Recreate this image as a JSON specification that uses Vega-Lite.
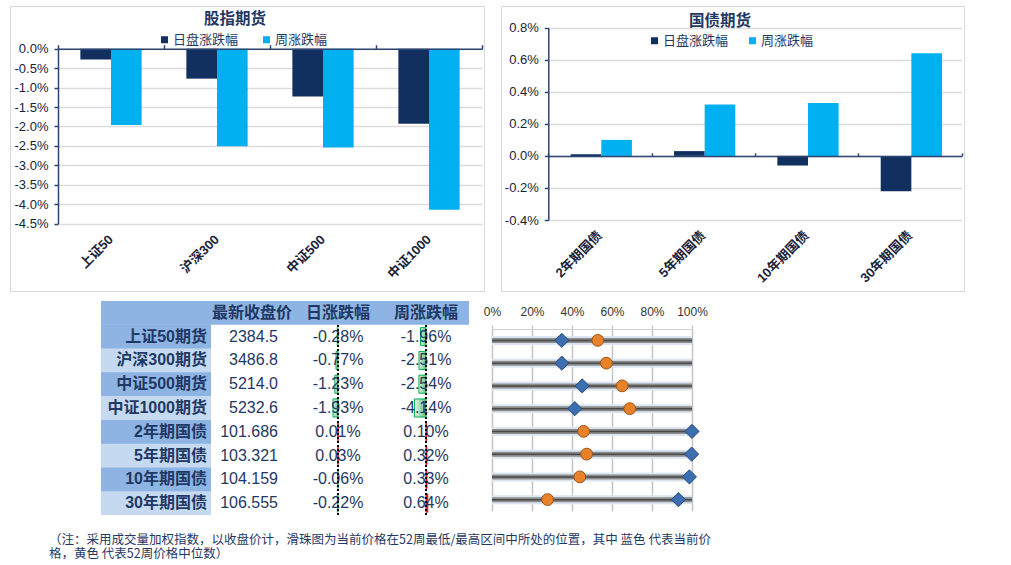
{
  "$schema": "https://vega.github.io/schema/vega-lite/v6.json",
  "padding": {"left": 9, "top": 5, "right": 0, "bottom": 0},
  "config": {
    "font": "Liberation Sans, Noto Sans CJK SC",
    "view": {"stroke": null},
    "locale": {"number": {"decimal": ".", "thousands": ",", "grouping": [3], "currency": ["", ""], "minus": "-"}},
    "axis": {"labelFont": "Liberation Sans, Noto Sans CJK SC"}
  },
  "datasets": {
    "eq": [
      {"cat": "上证50", "series": "日盘涨跌幅", "value": -0.0028},
      {"cat": "上证50", "series": "周涨跌幅", "value": -0.0196},
      {"cat": "沪深300", "series": "日盘涨跌幅", "value": -0.0077},
      {"cat": "沪深300", "series": "周涨跌幅", "value": -0.0251},
      {"cat": "中证500", "series": "日盘涨跌幅", "value": -0.0123},
      {"cat": "中证500", "series": "周涨跌幅", "value": -0.0254},
      {"cat": "中证1000", "series": "日盘涨跌幅", "value": -0.0193},
      {"cat": "中证1000", "series": "周涨跌幅", "value": -0.0414}
    ],
    "bond": [
      {"cat": "2年期国债", "series": "日盘涨跌幅", "value": 0.0001},
      {"cat": "2年期国债", "series": "周涨跌幅", "value": 0.0010},
      {"cat": "5年期国债", "series": "日盘涨跌幅", "value": 0.0003},
      {"cat": "5年期国债", "series": "周涨跌幅", "value": 0.0032},
      {"cat": "10年期国债", "series": "日盘涨跌幅", "value": -0.0006},
      {"cat": "10年期国债", "series": "周涨跌幅", "value": 0.0033},
      {"cat": "30年期国债", "series": "日盘涨跌幅", "value": -0.0022},
      {"cat": "30年期国债", "series": "周涨跌幅", "value": 0.0064}
    ],
    "tbl": [
      {"name": "上证50期货", "close": "2384.5", "day": -0.0028, "week": -0.0196, "cur": 0.349, "med": 0.529},
      {"name": "沪深300期货", "close": "3486.8", "day": -0.0077, "week": -0.0251, "cur": 0.349, "med": 0.572},
      {"name": "中证500期货", "close": "5214.0", "day": -0.0123, "week": -0.0254, "cur": 0.451, "med": 0.651},
      {"name": "中证1000期货", "close": "5232.6", "day": -0.0193, "week": -0.0414, "cur": 0.414, "med": 0.689},
      {"name": "2年期国债", "close": "101.686", "day": 0.0001, "week": 0.0010, "cur": 1.0, "med": 0.458},
      {"name": "5年期国债", "close": "103.321", "day": 0.0003, "week": 0.0032, "cur": 0.998, "med": 0.473},
      {"name": "10年期国债", "close": "104.159", "day": -0.0006, "week": 0.0033, "cur": 0.987, "med": 0.439},
      {"name": "30年期国债", "close": "106.555", "day": -0.0022, "week": 0.0064, "cur": 0.932, "med": 0.278}
    ]
  },
  "title": {
    "text": ["（注：采用成交量加权指数，以收盘价计，滑珠图为当前价格在52周最低/最高区间中所处的位置，其中 蓝色 代表当前价", "格，黄色 代表52周价格中位数）"],
    "orient": "bottom", "anchor": "start", "frame": "group", "offset": 18, "dx": 39,
    "font": "Noto Sans CJK SC", "fontSize": 12.5, "fontWeight": "normal", "color": "#1f3864", "lineHeight": 14
  },
  "spacing": 8,
  "resolve": {"scale": {"color": "independent"}, "legend": {"color": "independent"}},
  "vconcat": [
    {
      "hconcat": [
        {
          "width": 474, "height": 285,
          "view": {"stroke": "#d9d9d9", "strokeWidth": 1},
          "title": {"text": "股指期货", "font": "Noto Sans CJK SC", "fontSize": 15.5, "fontWeight": "bold", "color": "#1f3864", "anchor": "middle", "baseline": "middle", "offset": -12.5, "dy": 15.5, "dx": -12},
          "data": {"name": "eq"},
          "layer": [
            {
              "mark": {"type": "bar"},
              "encoding": {
                "x": {"field": "cat", "type": "nominal", "sort": null,
                  "scale": {"domain": ["上证50", "沪深300", "中证500", "中证1000"], "range": [48, 472], "paddingInner": 0, "paddingOuter": 0},
                  "axis": {"orient": "top", "offset": -42.7, "labels": false, "title": null, "tickBand": "extent", "tickSize": 4, "tickColor": "#2e4571", "tickWidth": 1.5, "domainColor": "#2e4571", "domainWidth": 1.5, "grid": false, "zindex": 1}},
                "xOffset": {"field": "series", "type": "nominal", "scale": {"domain": ["日盘涨跌幅", "周涨跌幅"], "paddingInner": 0, "paddingOuter": 0.73}},
                "y": {"field": "value", "type": "quantitative",
                  "scale": {"domain": [-0.045, 0], "range": [217.7, 42.7], "nice": false, "zero": false},
                  "axis": {"orient": "left", "offset": -48, "values": [0, -0.005, -0.01, -0.015, -0.02, -0.025, -0.03, -0.035, -0.04, -0.045], "tickCount": 30, "format": ".1%", "title": null, "labelFontSize": 13, "labelColor": "#1a2238", "labelPadding": 6, "labelOverlap": false, "tickSize": 4, "tickColor": "#2e4571", "tickWidth": 1.5, "domainColor": "#2e4571", "domainWidth": 1.5, "grid": true, "gridColor": "#dcdcdc", "gridWidth": 1.5}},
                "color": {"field": "series", "type": "nominal",
                  "scale": {"domain": ["日盘涨跌幅", "周涨跌幅"], "range": ["#11305f", "#00b0f0"]},
                  "legend": {"orient": "none", "legendX": 148, "legendY": 27, "direction": "horizontal", "title": null, "symbolType": "square", "symbolSize": 49, "symbolStrokeWidth": 0, "labelFont": "Noto Sans CJK SC", "labelFontSize": 13, "labelColor": "#1f3864", "columnPadding": 21, "labelOffset": 2, "padding": 0}}
              }
            },
            {
              "mark": {"type": "bar", "opacity": 0},
              "encoding": {
                "x": {"field": "cat", "type": "nominal", "sort": null,
                  "axis": {"orient": "bottom", "offset": -54, "domain": false, "ticks": false, "labelAngle": -45, "labelAlign": "right", "labelBaseline": "middle", "labelPadding": 0, "labelFontSize": 13, "labelFontWeight": "bold", "labelColor": "#1a2238", "title": null, "grid": false, "labelOverlap": false}},
                "xOffset": {"field": "series", "type": "nominal"},
                "y": {"field": "value", "type": "quantitative"}
              }
            }
          ],
          "resolve": {"axis": {"x": "independent"}}
        },
        {
          "width": 463, "height": 285,
          "view": {"stroke": "#d9d9d9", "strokeWidth": 1},
          "title": {"text": "国债期货", "font": "Noto Sans CJK SC", "fontSize": 15.5, "fontWeight": "bold", "color": "#1f3864", "anchor": "middle", "baseline": "middle", "offset": -13.8, "dy": 16.8, "dx": -12.5},
          "data": {"name": "bond"},
          "layer": [
            {
              "mark": {"type": "bar"},
              "encoding": {
                "x": {"field": "cat", "type": "nominal", "sort": null,
                  "scale": {"domain": ["2年期国债", "5年期国债", "10年期国债", "30年期国债"], "range": [47.3, 460.7], "paddingInner": 0, "paddingOuter": 0},
                  "axis": {"orient": "top", "offset": -149.9, "labels": false, "title": null, "tickBand": "extent", "tickSize": 3, "tickColor": "#2e4571", "tickWidth": 1.5, "domainColor": "#2e4571", "domainWidth": 1.5, "grid": false, "zindex": 1}},
                "xOffset": {"field": "series", "type": "nominal", "scale": {"domain": ["日盘涨跌幅", "周涨跌幅"], "paddingInner": 0, "paddingOuter": 0.73}},
                "y": {"field": "value", "type": "quantitative",
                  "scale": {"domain": [-0.004, 0.008], "range": [214, 21.7], "nice": false, "zero": false},
                  "axis": {"orient": "left", "offset": -47.3, "values": [-0.004, -0.002, 0, 0.002, 0.004, 0.006, 0.008], "tickCount": 30, "format": ".1%", "title": null, "labelFontSize": 13, "labelColor": "#1a2238", "labelPadding": 6, "labelOverlap": false, "tickSize": 4, "tickColor": "#2e4571", "tickWidth": 1.5, "domainColor": "#2e4571", "domainWidth": 1.5, "grid": true, "gridColor": "#dcdcdc", "gridWidth": 1.5}},
                "color": {"field": "series", "type": "nominal",
                  "scale": {"domain": ["日盘涨跌幅", "周涨跌幅"], "range": ["#11305f", "#00b0f0"]},
                  "legend": {"orient": "none", "legendX": 147, "legendY": 28, "direction": "horizontal", "title": null, "symbolType": "square", "symbolSize": 49, "symbolStrokeWidth": 0, "labelFont": "Noto Sans CJK SC", "labelFontSize": 13, "labelColor": "#1f3864", "columnPadding": 17, "labelOffset": 2, "padding": 0}}
              }
            },
            {
              "mark": {"type": "bar", "opacity": 0},
              "encoding": {
                "x": {"field": "cat", "type": "nominal", "sort": null,
                  "axis": {"orient": "bottom", "offset": -58, "domain": false, "ticks": false, "labelAngle": -45, "labelAlign": "right", "labelBaseline": "middle", "labelPadding": 0, "labelFontSize": 13, "labelFontWeight": "bold", "labelColor": "#1a2238", "title": null, "grid": false, "labelOverlap": false}},
                "xOffset": {"field": "series", "type": "nominal"},
                "y": {"field": "value", "type": "quantitative"}
              }
            }
          ],
          "resolve": {"axis": {"x": "independent"}}
        }
      ],
      "spacing": 17,
      "bounds": "flush",
      "resolve": {"scale": {"color": "independent"}, "legend": {"color": "independent"}}
    },
    {
      "hconcat": [
        {"width": 91, "height": 214, "data": {"values": [{}]}, "mark": {"type": "text", "text": ""}, "encoding": {}},
        {
          "width": 110, "height": 214,
          "view": {"stroke": null, "fill": "#c5d9f1"},
          "data": {"name": "tbl"},
          "layer": [
            {
              "transform": [{"filter": {"field": "name", "oneOf": ["上证50期货", "中证500期货", "2年期国债", "10年期国债"]}}],
              "mark": {"type": "rect", "color": "#8db4e2"},
              "encoding": {"y": {"field": "name", "type": "nominal", "scale": {"domain": [" ", "上证50期货", "沪深300期货", "中证500期货", "中证1000期货", "2年期国债", "5年期国债", "10年期国债", "30年期国债"], "paddingInner": 0, "paddingOuter": 0}, "axis": null}}
            },
            {
              "data": {"values": [{"name": " "}]},
              "mark": {"type": "rect", "color": "#8db4e2"},
              "encoding": {"y": {"field": "name", "type": "nominal"}}
            },
            {
              "mark": {"type": "text", "align": "right", "dx": -4, "fontSize": 16, "fontWeight": "bold", "color": "#1f3864"},
              "encoding": {"x": {"value": "width"}, "y": {"field": "name", "type": "nominal"}, "text": {"field": "name"}}
            }
          ]
        },
        {
          "width": 82, "height": 214,
          "data": {"name": "tbl"},
          "layer": [
            {
              "data": {"values": [{"name": " ", "h": "最新收盘价"}]},
              "mark": {"type": "rect", "color": "#8db4e2"},
              "encoding": {"y": {"field": "name", "type": "nominal", "scale": {"domain": [" ", "上证50期货", "沪深300期货", "中证500期货", "中证1000期货", "2年期国债", "5年期国债", "10年期国债", "30年期国债"], "paddingInner": 0, "paddingOuter": 0}, "axis": null}}
            },
            {
              "data": {"values": [{"name": " ", "h": "最新收盘价"}]},
              "mark": {"type": "text", "align": "right", "dx": -1, "fontSize": 16, "fontWeight": "bold", "color": "#1f3864"},
              "encoding": {"x": {"value": "width"}, "y": {"field": "name", "type": "nominal"}, "text": {"field": "h"}}
            },
            {
              "mark": {"type": "text", "align": "right", "dx": -15, "fontSize": 16, "color": "#1f3864"},
              "encoding": {"x": {"value": "width"}, "y": {"field": "name", "type": "nominal"}, "text": {"field": "close"}}
            }
          ]
        },
        {
          "width": 90, "height": 214,
          "data": {"name": "tbl"},
          "layer": [
            {
              "transform": [{"filter": "datum.day < 0"}],
              "mark": {"type": "bar", "height": {"band": 0.76}, "fill": {"x1": 0, "y1": 0, "x2": 1, "y2": 0, "gradient": "linear", "stops": [{"offset": 0, "color": "#e4f5ea"}, {"offset": 1, "color": "#5cc27f"}]}, "stroke": "#00b050", "strokeWidth": 1},
              "encoding": {
                "x": {"field": "day", "type": "quantitative", "scale": {"domain": [-0.173, 0.173], "nice": false, "zero": false}, "axis": null},
                "x2": {"datum": 0},
                "y": {"field": "name", "type": "nominal", "scale": {"domain": [" ", "上证50期货", "沪深300期货", "中证500期货", "中证1000期货", "2年期国债", "5年期国债", "10年期国债", "30年期国债"], "paddingInner": 0, "paddingOuter": 0}, "axis": null}
              }
            },
            {
              "transform": [{"filter": "datum.day > 0"}],
              "mark": {"type": "bar", "height": {"band": 0.76}, "fill": "#f04a4a", "stroke": "#e00000", "strokeWidth": 1},
              "encoding": {"x": {"field": "day", "type": "quantitative"}, "x2": {"datum": 0}, "y": {"field": "name", "type": "nominal"}}
            },
            {
              "mark": {"type": "text", "align": "center", "fontSize": 16, "color": "#1f3864"},
              "encoding": {"x": {"datum": 0, "type": "quantitative"}, "y": {"field": "name", "type": "nominal"}, "text": {"field": "day", "format": ".2%"}}
            },
            {
              "mark": {"type": "rule", "color": "#000000", "strokeDash": [2, 2], "strokeWidth": 1.5},
              "encoding": {"x": {"datum": 0, "type": "quantitative"}}
            },
            {
              "data": {"values": [{"name": " ", "h": "日涨跌幅"}]},
              "mark": {"type": "rect", "color": "#8db4e2"},
              "encoding": {"y": {"field": "name", "type": "nominal"}}
            },
            {
              "data": {"values": [{"name": " ", "h": "日涨跌幅"}]},
              "mark": {"type": "text", "align": "center", "fontSize": 16, "fontWeight": "bold", "color": "#1f3864"},
              "encoding": {"x": {"datum": 0, "type": "quantitative"}, "y": {"field": "name", "type": "nominal"}, "text": {"field": "h"}}
            }
          ]
        },
        {
          "width": 86, "height": 214,
          "data": {"name": "tbl"},
          "layer": [
            {
              "transform": [{"filter": "datum.week < 0"}],
              "mark": {"type": "bar", "height": {"band": 0.76}, "fill": {"x1": 0, "y1": 0, "x2": 1, "y2": 0, "gradient": "linear", "stops": [{"offset": 0, "color": "#e4f5ea"}, {"offset": 1, "color": "#5cc27f"}]}, "stroke": "#00b050", "strokeWidth": 1},
              "encoding": {
                "x": {"field": "week", "type": "quantitative", "scale": {"domain": [-0.154, 0.154], "nice": false, "zero": false}, "axis": null},
                "x2": {"datum": 0},
                "y": {"field": "name", "type": "nominal", "scale": {"domain": [" ", "上证50期货", "沪深300期货", "中证500期货", "中证1000期货", "2年期国债", "5年期国债", "10年期国债", "30年期国债"], "paddingInner": 0, "paddingOuter": 0}, "axis": null}
              }
            },
            {
              "transform": [{"filter": "datum.week > 0"}],
              "mark": {"type": "bar", "height": {"band": 0.76}, "fill": "#f04a4a", "stroke": "#e00000", "strokeWidth": 1},
              "encoding": {"x": {"field": "week", "type": "quantitative"}, "x2": {"datum": 0}, "y": {"field": "name", "type": "nominal"}}
            },
            {
              "mark": {"type": "text", "align": "center", "fontSize": 16, "color": "#1f3864"},
              "encoding": {"x": {"datum": 0, "type": "quantitative"}, "y": {"field": "name", "type": "nominal"}, "text": {"field": "week", "format": ".2%"}}
            },
            {
              "mark": {"type": "rule", "color": "#000000", "strokeDash": [2, 2], "strokeWidth": 1.5},
              "encoding": {"x": {"datum": 0, "type": "quantitative"}}
            },
            {
              "data": {"values": [{"name": " ", "h": "周涨跌幅"}]},
              "mark": {"type": "rect", "color": "#8db4e2"},
              "encoding": {"y": {"field": "name", "type": "nominal"}}
            },
            {
              "data": {"values": [{"name": " ", "h": "周涨跌幅"}]},
              "mark": {"type": "text", "align": "center", "fontSize": 16, "fontWeight": "bold", "color": "#1f3864"},
              "encoding": {"x": {"datum": 0, "type": "quantitative"}, "y": {"field": "name", "type": "nominal"}, "text": {"field": "h"}}
            }
          ]
        },
        {"width": 22.7, "height": 214, "data": {"values": [{}]}, "mark": {"type": "text", "text": ""}, "encoding": {}},
        {
          "width": 200, "height": 214,
          "data": {"name": "tbl"},
          "layer": [
            {
              "mark": {"type": "rule", "color": "#dce6f2", "strokeWidth": 9},
              "encoding": {
                "x": {"datum": 0, "type": "quantitative", "scale": {"domain": [0, 1], "nice": false, "zero": false},
                  "axis": {"orient": "top", "offset": -28, "values": [0, 0.2, 0.4, 0.6, 0.8, 1], "tickCount": 30, "format": ".0%", "title": null, "grid": true, "gridColor": "#c4c4c4", "gridWidth": 1.5, "domainColor": "#cfcfcf", "tickColor": "#bfbfbf", "tickSize": 4, "labelPadding": 7, "labelFontSize": 12, "labelColor": "#333333", "labelFlush": false, "labelOverlap": false}},
                "x2": {"datum": 1},
                "y": {"field": "name", "type": "nominal", "scale": {"domain": ["上证50期货", "沪深300期货", "中证500期货", "中证1000期货", "2年期国债", "5年期国债", "10年期国债", "30年期国债"], "range": [28, 210], "paddingInner": 0, "paddingOuter": 0}, "axis": null}
              }
            },
            {
              "mark": {"type": "rule", "color": "#8c8c8c", "strokeWidth": 5},
              "encoding": {"x": {"datum": 0, "type": "quantitative"}, "x2": {"datum": 1}, "y": {"field": "name", "type": "nominal"}}
            },
            {
              "mark": {"type": "rule", "color": "#4a4a4a", "strokeWidth": 1.5},
              "encoding": {"x": {"datum": 0, "type": "quantitative"}, "x2": {"datum": 1}, "y": {"field": "name", "type": "nominal"}}
            },
            {
              "mark": {"type": "point", "shape": "circle", "filled": true, "size": 140, "fill": "#e8822a", "stroke": "#9c5215", "strokeWidth": 1, "opacity": 1},
              "encoding": {"x": {"field": "med", "type": "quantitative"}, "y": {"field": "name", "type": "nominal"}}
            },
            {
              "mark": {"type": "point", "shape": "diamond", "filled": true, "size": 200, "fill": "#3c6eb0", "stroke": "#24497a", "strokeWidth": 1, "opacity": 1},
              "encoding": {"x": {"field": "cur", "type": "quantitative"}, "y": {"field": "name", "type": "nominal"}}
            }
          ]
        }
      ],
      "spacing": 0,
      "bounds": "flush"
    }
  ]
}
